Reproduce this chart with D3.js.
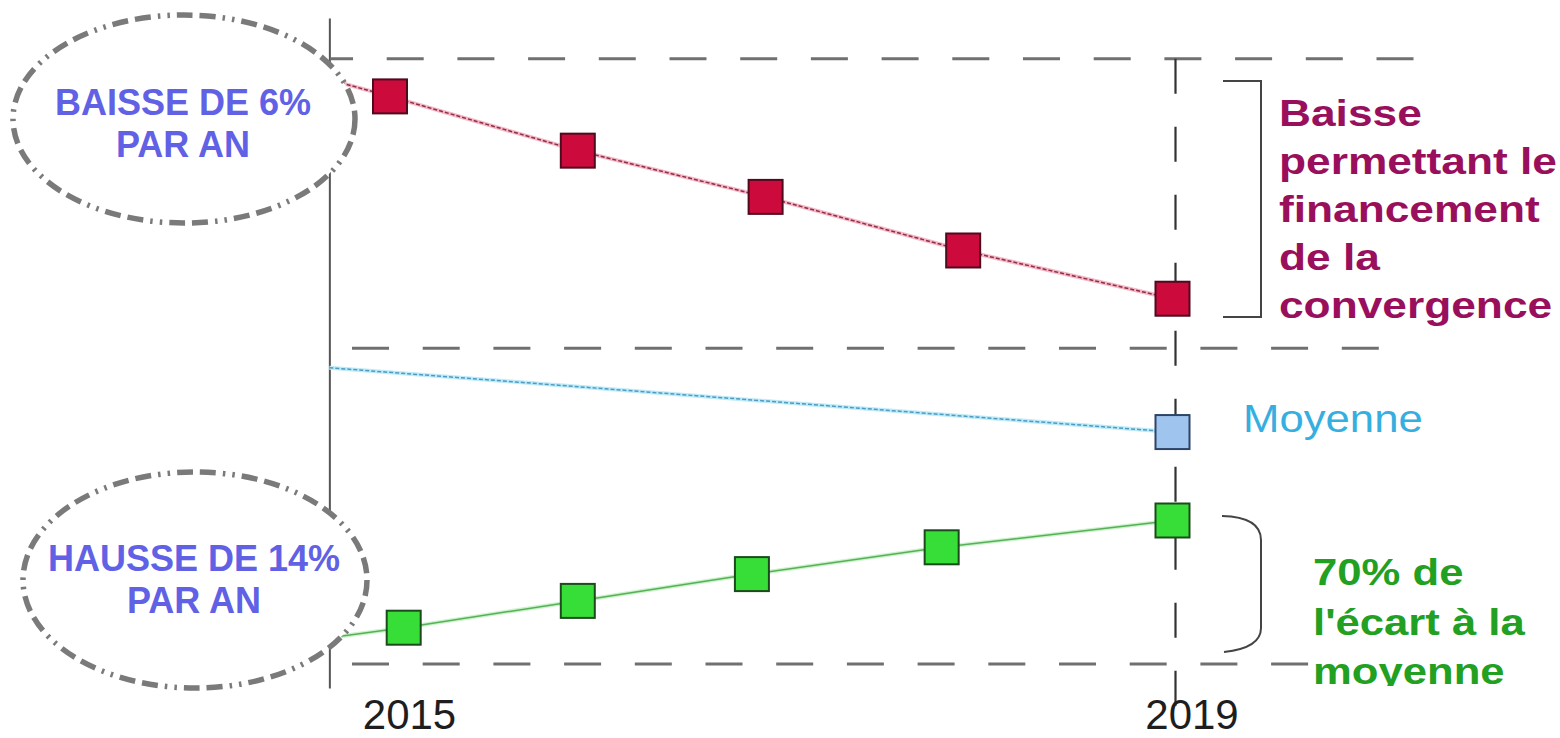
<!DOCTYPE html>
<html lang="fr">
<head>
<meta charset="utf-8">
<title>Convergence 2015-2019</title>
<script src="https://cdn.jsdelivr.net/npm/d3@7"></script>
<style>
  body { margin: 0; background: #fff; }
  svg { display: block; font-family: "Liberation Sans", Arial, sans-serif; }
</style>
</head>
<body>
<div id="grafico"></div>
<script>
// Données (x en années, y en indice 0-100)
const anneesAxe = [2015, 2019];
const debutAxe = 2014.69; // position de l'axe vertical

const baisseX = [2015.0, 2015.96, 2016.92, 2017.93, 2019.0];
const baisseY = [88.3, 80.2, 73.3, 65.3, 58.1];
const baisseDepart = 90.8;

const moyenneX = [2019.0];
const moyenneY = [38.2];
const moyenneDepart = 47.8;

const hausseX = [2015.07, 2015.96, 2016.85, 2017.82, 2019.0];
const hausseY = [9.0, 13.0, 17.0, 21.0, 25.0];
const hausseDepart = 7.5;

const niveauxRepere = [93.9, 50.7, 3.6];

const texteBaisse = ["Baisse", "permettant le", "financement", "de la", "convergence"];
const texteEcart = ["70% de", "l'écart à la", "moyenne"];

const width = 1560;
const height = 738;

const x = d3.scaleLinear()
    .domain([2015, 2019])
    .range([390, 1172.5]);

const y = d3.scaleLinear()
    .domain([0, 100])
    .range([688, 18]);

const svg = d3.select("#grafico")
    .append("svg")
    .attr("width", width)
    .attr("height", height);

svg.append("defs")
    .append("clipPath")
    .attr("id", "coupe")
    .append("rect")
    .attr("x", 0).attr("y", 0)
    .attr("width", width).attr("height", 686);

// axe vertical (sans graduations)
svg.append("g")
    .attr("transform", `translate(${x(debutAxe)},0)`)
    .call(d3.axisLeft(y).tickValues([]).tickSizeOuter(0))
    .call(g => g.select(".domain").attr("stroke", "#555").attr("stroke-width", 2));

// lignes de repère horizontales
const finsRepere = [[330, 1418, 14], [352, 1386, 0], [352, 1310, 0]];
svg.selectAll("line.repere")
    .data(niveauxRepere)
    .enter()
    .append("line")
    .attr("class", "repere")
    .attr("x1", (d, i) => finsRepere[i][0])
    .attr("x2", (d, i) => finsRepere[i][1])
    .attr("y1", d => y(d))
    .attr("y2", d => y(d))
    .attr("stroke", "#707070")
    .attr("stroke-width", 3)
    .attr("stroke-dasharray", "37 33.7")
    .attr("stroke-dashoffset", (d, i) => finsRepere[i][2]);

// repère vertical 2019
svg.append("line")
    .attr("x1", x(2019) + 3).attr("x2", x(2019) + 3)
    .attr("y1", y(niveauxRepere[0])).attr("y2", 708)
    .attr("stroke", "#333")
    .attr("stroke-width", 2.2)
    .attr("stroke-dasharray", "35 33");

const ligne = d3.line()
    .x(d => x(d[0]))
    .y(d => y(d[1]));

const series = [
    { xs: baisseX, ys: baisseY, depart: baisseDepart, trait: "#8e2f45", halo: "#f5b8c8", tirets: "4 2", fond: "#cc0a3c", bord: "#4f0a1e" },
    { xs: moyenneX, ys: moyenneY, depart: moyenneDepart, trait: "#4a9cc4", halo: "#bfeaf8", tirets: "4 2", fond: "#9fc4ee", bord: "#2d4468" },
    { xs: hausseX, ys: hausseY, depart: hausseDepart, trait: "#5aae5a", halo: "#c8f4c8", tirets: null, fond: "#38de38", bord: "#1c4a1c" }
];

series.forEach(s => {
    const pts = [[debutAxe, s.depart]].concat(s.xs.map((v, i) => [v, s.ys[i]]));

    svg.append("path")
        .datum(pts)
        .attr("d", ligne)
        .attr("fill", "none")
        .attr("stroke", s.halo)
        .attr("stroke-width", 4);

    svg.append("path")
        .datum(pts)
        .attr("d", ligne)
        .attr("fill", "none")
        .attr("stroke", s.trait)
        .attr("stroke-width", 1.5)
        .attr("stroke-dasharray", s.tirets);

    svg.selectAll(null)
        .data(s.xs)
        .enter()
        .append("rect")
        .attr("x", d => x(d) - 17)
        .attr("y", (d, i) => y(s.ys[i]) - 17)
        .attr("width", 34)
        .attr("height", 34)
        .attr("fill", s.fond)
        .attr("stroke", s.bord)
        .attr("stroke-width", 2);
});

// années
svg.append("g")
    .attr("transform", `translate(19,697)`)
    .call(d3.axisBottom(x).tickValues(anneesAxe).tickFormat(d3.format("d")).tickSize(0).tickPadding(2))
    .call(g => g.select(".domain").remove())
    .call(g => g.selectAll("text")
        .attr("font-family", "Liberation Sans, Arial, sans-serif")
        .attr("font-size", 42)
        .attr("fill", "#1e1e1e"));

// accolades
svg.append("path")
    .attr("d", "M1223,81 H1261 V317 H1223")
    .attr("fill", "none")
    .attr("stroke", "#444")
    .attr("stroke-width", 2);

svg.append("path")
    .attr("d", "M1222,516 Q1261,517 1261,540 V628 Q1261,648 1224,652")
    .attr("fill", "none")
    .attr("stroke", "#444")
    .attr("stroke-width", 2);

// bulles à gauche
const bulles = [
    { cx: 184, cy: 119, rx: 171, ry: 104, lignes: ["BAISSE DE 6%", "PAR AN"], bx: 183, by: [115, 157] },
    { cx: 195, cy: 580, rx: 172, ry: 108, lignes: ["HAUSSE DE 14%", "PAR AN"], bx: 194, by: [571, 613] }
];

bulles.forEach(b => {
    svg.append("ellipse")
        .attr("cx", b.cx).attr("cy", b.cy)
        .attr("rx", b.rx).attr("ry", b.ry)
        .attr("fill", "#fff")
        .attr("stroke", "#7a7a7a")
        .attr("stroke-width", 5.5)
        .attr("stroke-dasharray", "16 7 16 7 2.5 7 2.5 7");

    svg.selectAll(null)
        .data(b.lignes)
        .enter()
        .append("text")
        .attr("x", b.bx)
        .attr("y", (d, i) => b.by[i])
        .attr("text-anchor", "middle")
        .attr("font-size", 36)
        .attr("font-weight", "bold")
        .attr("fill", "#6161e6")
        .text(d => d);
});

// textes à droite
svg.selectAll("text.baisse")
    .data(texteBaisse)
    .enter()
    .append("text")
    .attr("class", "baisse")
    .attr("transform", (d, i) => `translate(1279,${126 + i * 48}) scale(1.23,1)`)
    .attr("font-size", 36)
    .attr("font-weight", "bold")
    .attr("fill", "#990f5c")
    .text(d => d);

svg.append("text")
    .attr("transform", "translate(1243,432) scale(1.15,1)")
    .attr("font-size", 38)
    .attr("fill", "#36afe0")
    .text("Moyenne");

svg.append("g")
    .attr("clip-path", "url(#coupe)")
    .selectAll("text")
    .data(texteEcart)
    .enter()
    .append("text")
    .attr("transform", (d, i) => `translate(1313,${585 + i * 49.5}) scale(1.18,1)`)
    .attr("font-size", 37)
    .attr("font-weight", "bold")
    .attr("fill", "#22a022")
    .text(d => d);
</script>
</body>
</html>
